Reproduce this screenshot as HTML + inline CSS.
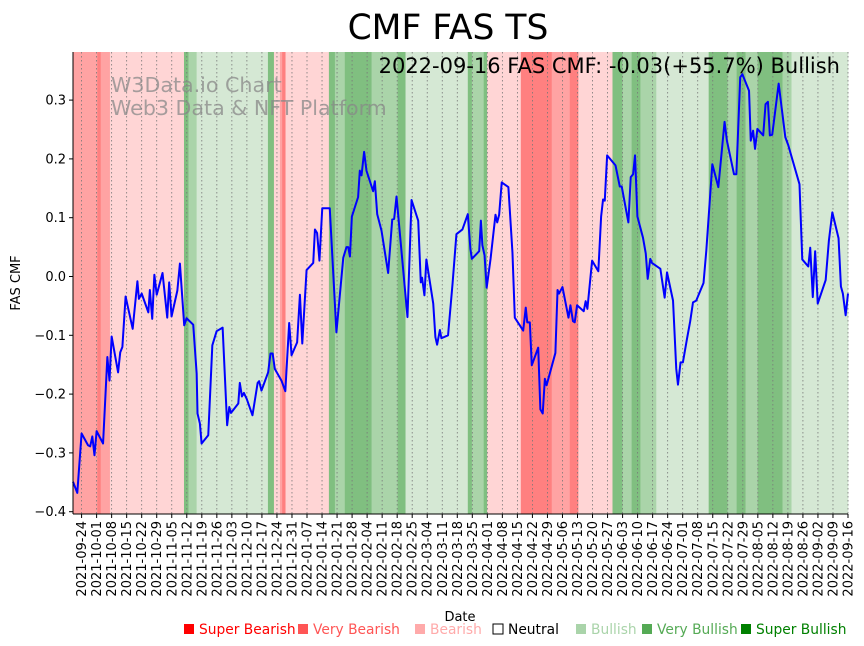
<!DOCTYPE html>
<html><head><meta charset="utf-8">
<style>
html,body{margin:0;padding:0;background:#fff;}
svg{display:block;font-family:"DejaVu Sans","Liberation Sans",sans-serif;}
</style></head>
<body>
<svg id="chart" width="864" height="646" viewBox="0 0 864 646" xmlns="http://www.w3.org/2000/svg">
<g id="bands"></g>
<g id="grid"></g>
<text x="111" y="92" font-size="20.6" fill="#888" fill-opacity="0.75">W3Data.io Chart</text>
<text x="111" y="115" font-size="20.6" fill="#888" fill-opacity="0.75">Web3 Data &amp; NFT Platform</text>
<g id="series"></g>
<g id="axes"></g>
<text x="448" y="39" font-size="34.5" text-anchor="middle" fill="#000">CMF FAS TS</text>
<text x="840" y="73" font-size="21" text-anchor="end" fill="#000">2022-09-16 FAS CMF: -0.03(+55.7%) Bullish</text>
<text transform="translate(20,283) rotate(-90)" font-size="13" text-anchor="middle">FAS CMF</text>
<text x="460" y="621" font-size="13" text-anchor="middle">Date</text>
<g id="legend"></g>
</svg>
<script>
const days = [0,2,4,7,8,9,10,11,14,16,17,18,21,22,23,24.5,27.8,30,30.7,32,35.1,35.8,36.9,37.9,39,41.7,43.9,44.8,45.9,48.6,49.8,51.8,52.9,56,57.6,58,59.1,59.9,63,64.9,66.9,69.7,71.8,72.8,73.6,77,77.7,78.7,79.6,80.9,83.6,86,86.7,87.8,90.9,92,93,94,97.1,98.9,100.7,101.8,104.4,105.7,106.8,108.8,111.9,112.7,113.7,114.8,116.1,119.6,122.7,125.9,127.4,128.2,129,129.9,132.8,133.6,134.4,135.6,136.7,139.8,140.6,141.7,143.7,146.8,148.7,149.6,150.7,155.8,157.7,160.8,162,162.6,163.7,164.6,167.8,168.8,169.6,170.9,171.6,174.7,176.8,178.6,181.4,183.9,185.1,185.8,189.2,190,190.7,191.7,192.7,194.5,196.8,197.6,198.5,199.7,202.8,204.7,205.8,209.7,210.9,211.6,212.8,213.7,216.7,217.7,218.8,219.8,220.6,224.7,225.7,226.4,228,230.8,231.7,232.9,233.7,234.8,237.9,238.8,239.6,241.8,244.7,246,246.9,247.7,248.8,252.7,254.7,255.6,258.7,259.8,260.9,261.8,262.9,265.5,266.8,267.7,268.9,269.7,273.6,275.6,276.7,279.5,281,281.8,283,284.1,286,287.5,288.8,290.3,293.7,295,297.8,300.6,303.5,304.6,307.9,309,310.8,311.8,314.9,315.7,316.8,317.7,318.8,321.5,322.6,323.7,324.6,325.7,328.7,331.8,333.2,338.4,339.7,342.5,343.4,344.6,345.7,346.9,350.6,352.1,353.7,356.6,357.7,358.6,359.9,361];
const cmf = [-0.349,-0.368,-0.267,-0.287,-0.289,-0.272,-0.304,-0.263,-0.284,-0.137,-0.177,-0.102,-0.163,-0.129,-0.120,-0.034,-0.089,-0.008,-0.038,-0.029,-0.061,-0.023,-0.072,0.003,-0.031,0.006,-0.070,-0.010,-0.068,-0.024,0.022,-0.083,-0.071,-0.082,-0.165,-0.233,-0.250,-0.284,-0.270,-0.117,-0.093,-0.087,-0.253,-0.222,-0.232,-0.216,-0.181,-0.204,-0.198,-0.208,-0.236,-0.181,-0.178,-0.194,-0.163,-0.131,-0.131,-0.157,-0.177,-0.195,-0.079,-0.134,-0.112,-0.031,-0.114,0.011,0.023,0.080,0.074,0.027,0.116,0.116,-0.095,0.032,0.050,0.050,0.034,0.102,0.135,0.180,0.172,0.212,0.180,0.145,0.162,0.106,0.078,0.006,0.097,0.098,0.136,-0.069,0.130,0.095,-0.010,-0.002,-0.032,0.029,-0.046,-0.103,-0.116,-0.091,-0.105,-0.100,-0.012,0.072,0.080,0.106,0.047,0.030,0.043,0.095,0.053,0.036,-0.019,0.030,0.105,0.092,0.105,0.160,0.152,0.041,-0.070,-0.092,-0.053,-0.078,-0.078,-0.151,-0.121,-0.226,-0.233,-0.174,-0.185,-0.130,-0.023,-0.029,-0.018,-0.070,-0.049,-0.076,-0.078,-0.049,-0.059,-0.042,-0.055,0.027,0.009,0.102,0.131,0.129,0.206,0.189,0.153,0.153,0.092,0.169,0.174,0.206,0.102,0.066,0.039,-0.004,0.030,0.023,0.013,-0.036,0.007,-0.041,-0.157,-0.184,-0.146,-0.146,-0.106,-0.076,-0.044,-0.041,-0.011,0.044,0.191,0.152,0.263,0.231,0.174,0.174,0.339,0.344,0.316,0.231,0.248,0.217,0.251,0.240,0.293,0.297,0.240,0.241,0.328,0.237,0.223,0.157,0.029,0.017,0.049,-0.035,0.043,-0.046,-0.006,0.061,0.109,0.065,-0.017,-0.029,-0.066,-0.029];
const bandStart = [0,11.3,12.9,17.2,51.7,53.8,57.6,90.8,93.6,96.4,97.4,99.0,119.2,122.0,126.6,139.1,151.2,154.9,183.9,185.8,191.3,192.9,208.6,223.0,231.4,235.4,251.3,255.9,260.2,264.3,271.7,296.1,304.9,309.1,313.3,318.9,330.5,334.7];
const bandEnd   = [11.3,12.9,17.2,51.7,53.8,57.6,90.8,93.6,96.4,97.4,99.0,119.2,122.0,126.6,139.1,151.2,154.9,183.9,185.8,191.3,192.9,208.6,223.0,231.4,235.4,251.3,255.9,260.2,264.3,271.7,296.1,304.9,309.1,313.3,318.9,330.5,334.7,361];
const bandLevel = [-2,-3,-2,-1,3,2,1,3,-1,-2,-3,-1,3,2,3,2,3,1,3,2,3,-1,-3,-2,-3,-1,3,2,3,2,1,3,2,3,2,3,2,1];
const tickLabels = ["2021-09-24","2021-10-01","2021-10-08","2021-10-15","2021-10-22","2021-10-29","2021-11-05","2021-11-12","2021-11-19","2021-11-26","2021-12-03","2021-12-10","2021-12-17","2021-12-24","2021-12-31","2022-01-07","2022-01-14","2022-01-21","2022-01-28","2022-02-04","2022-02-11","2022-02-18","2022-02-25","2022-03-04","2022-03-11","2022-03-18","2022-03-25","2022-04-01","2022-04-08","2022-04-15","2022-04-22","2022-04-29","2022-05-06","2022-05-13","2022-05-20","2022-05-27","2022-06-03","2022-06-10","2022-06-17","2022-06-24","2022-07-01","2022-07-08","2022-07-15","2022-07-22","2022-07-29","2022-08-05","2022-08-12","2022-08-19","2022-08-26","2022-09-02","2022-09-09","2022-09-16"];
const tickDays = tickLabels.map((t,i)=>4+7*i);
const yTicks = [-0.4,-0.3,-0.2,-0.1,0,0.1,0.2,0.3];
const legendLabels = ["Super Bearish","Very Bearish","Bearish","Neutral","Bullish","Very Bullish","Super Bullish"];

const NS="http://www.w3.org/2000/svg";
const L=73,R=848,T=52,B=514,DMAX=361;
const xs=d=>L+d*(R-L)/DMAX;
const ys=v=>276.5-v*588;
function mk(tag,attrs,parent){const e=document.createElementNS(NS,tag);for(const k in attrs)e.setAttribute(k,attrs[k]);parent.appendChild(e);return e;}
const bandColor={"-3":"#ff8080","-2":"#ffa3a3","-1":"#ffd5d5","1":"#d5e8d4","2":"#aad4a9","3":"#80bf80"};
const gB=document.getElementById('bands');
bandStart.forEach((s,i)=>{
  const r=mk('rect',{x:xs(s),y:T,width:xs(bandEnd[i])-xs(s)+0.3,height:B-T,fill:bandColor[bandLevel[i]]},gB);
  
  
});
const gG=document.getElementById('grid'), gA=document.getElementById('axes');
tickDays.forEach((d,i)=>{
  const x=xs(d);
  const g=mk('line',{x1:x,x2:x,y1:T,y2:B,stroke:'#777','stroke-width':0.8,'stroke-dasharray':'1.5,2.5'},gG);
  
  
  mk('line',{x1:x,x2:x,y1:B,y2:B+4,stroke:'#000','stroke-width':1},gA);
  const t=mk('text',{transform:`translate(${x+4.5},${B+7}) rotate(-90)`,'font-size':13,'text-anchor':'end'},gA);
  t.textContent=tickLabels[i];
  
  
});
yTicks.forEach(v=>{
  const y=ys(v);
  mk('line',{x1:L-4,x2:L,y1:y,y2:y,stroke:'#000','stroke-width':1},gA);
  const t=mk('text',{x:L-7,y:y+4.5,'font-size':13,'text-anchor':'end'},gA);
  t.textContent=(v<0?'\u2212':'')+Math.abs(v).toFixed(1);
  
  
});
mk('line',{x1:L,x2:L,y1:T,y2:B,stroke:'#000','stroke-width':1},gA);
mk('line',{x1:L,x2:R,y1:B,y2:B,stroke:'#000','stroke-width':1},gA);
const pts=days.map((d,i)=>xs(d).toFixed(2)+','+ys(cmf[i]).toFixed(2)).join(' ');
const pl=mk('polyline',{points:pts,fill:'none',stroke:'#0000ff','stroke-width':2,'stroke-linejoin':'round'},document.getElementById('series'));


const legX=[184,298,415,493,576,642,741];
const legSq=["#ff0000","#ff5555","#ffaaaa","#ffffff","#aad4aa","#55aa55","#008000"];
const legTx=["#ff0000","#ff5555","#ffaaaa","#000000","#aad4aa","#55aa55","#008000"];
const gL=document.getElementById('legend');
legendLabels.forEach((lab,i)=>{
  const g=mk('g',{},gL);
  
  
  mk('rect',{x:legX[i],y:624,width:10,height:10,fill:legSq[i],stroke:i==3?'#000':'none','stroke-width':1},g);
  const t=mk('text',{x:legX[i]+15,y:634,'font-size':13.8,fill:legTx[i]},g);
  t.textContent=lab;
});
</script>
</body></html>
